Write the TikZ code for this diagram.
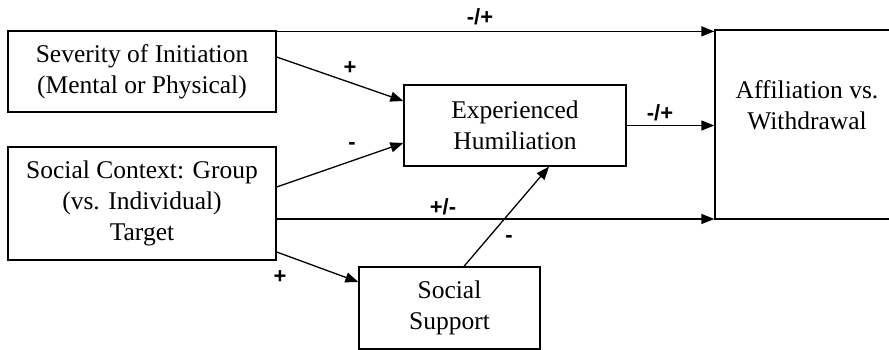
\documentclass[tikz,border=0pt]{standalone}
\usepackage{fontspec}
\setmainfont{Liberation Serif}
\newfontfamily\labfont{Liberation Sans}
\usetikzlibrary{arrows.meta,calc}
\begin{document}
\begin{tikzpicture}[x=1pt,y=-1pt,
  box/.style={draw,line width=1.3pt,inner sep=0pt,align=center,font=\fontsize{25.5}{31}\selectfont},
  conn/.style={line width=1.3pt,-{Triangle[length=13pt,width=10pt]}},
  lab/.style={font=\labfont\bfseries\fontsize{22}{24}\selectfont,inner sep=0pt}]
\useasboundingbox (0,0) rectangle (889,350);
\clip (0,0) rectangle (889,350);
\node[box,minimum width=268pt,minimum height=81pt] (sev) at (142,71.5) {Severity of Initiation\\(Mental or Physical)};
\node[box,minimum width=268pt,minimum height=113pt] (soc) at (142,203.5) {Social Context: Group\\(vs. Individual)\\Target};
\node[box,minimum width=222pt,minimum height=81pt] (hum) at (515,125.5) {Experienced\\Humiliation};
\node[box,minimum width=181pt,minimum height=82pt] (sup) at (449.5,308) {Social\\Support};
\node[box,minimum width=185pt,minimum height=189pt] (aff) at (807.5,124.5) {};
\node[box,draw=none] (afftext) at (807,105) {Affiliation vs.\\Withdrawal};
% connectors
\draw[conn] ([yshift=-1pt]sev.north east) -- ([yshift=-1pt]sev.north east -| aff.west);
\draw[conn] ([yshift=14.5pt]sev.east) -- ([yshift=24.5pt]hum.west);
\draw[conn] ([yshift=16.5pt]soc.east) -- ([yshift=-17.5pt]hum.west);
\draw[conn] ([yshift=-15.5pt]soc.east) -- ([yshift=-15.5pt]soc.east -| aff.west);
\draw[conn] ([yshift=-48.5pt]soc.east) -- ([yshift=26pt]sup.west);
\draw[conn] ([xshift=14.5pt]sup.north) -- ([xshift=34pt]hum.south);
\draw[conn] (hum.east) -- (hum.east -| aff.west);
% labels
\node[lab] (l1) at (480,17) {-/+};
\node[lab] (l2) at (350,68) {+};
\node[lab] (l3) at (352,146) {-};
\node[lab] (l4) at (660,113) {-/+};
\node[lab] (l5) at (443,207) {+/-};
\node[lab] (l6) at (280,277) {+};
\node[lab] (l7) at (509,239) {-};
\end{tikzpicture}
\end{document}
